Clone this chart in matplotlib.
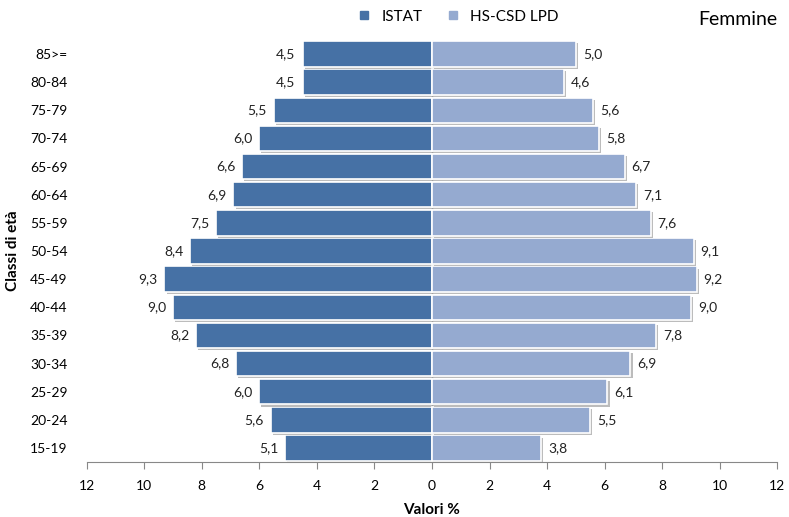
import matplotlib
matplotlib.use('Agg')
import matplotlib.pyplot as plt
import matplotlib.patheffects as pe
from matplotlib.lines import Line2D

plt.rcParams['font.family'] = ['Lato', 'DejaVu Sans']

# age classes, bottom to top
classes = ['15-19', '20-24', '25-29', '30-34', '35-39', '40-44', '45-49', '50-54',
           '55-59', '60-64', '65-69', '70-74', '75-79', '80-84', '85>=']
istat = [5.1, 5.6, 6.0, 6.8, 8.2, 9.0, 9.3, 8.4, 7.5, 6.9, 6.6, 6.0, 5.5, 4.5, 4.5]
hs_csd = [3.8, 5.5, 6.1, 6.9, 7.8, 9.0, 9.2, 9.1, 7.6, 7.1, 6.7, 5.8, 5.6, 4.6, 5.0]
xticks = [-12, -10, -8, -6, -4, -2, 0, 2, 4, 6, 8, 10, 12]

c_istat = '#4671A5'
c_hs = '#95AAD0'

fig = plt.figure(figsize=(7.89, 5.17), dpi=100)
ax = fig.add_axes([0.110, 0.106, 0.875, 0.817])

shadow = [pe.SimplePatchShadow(offset=(1.5, -1.5), shadow_rgbFace='#909090', alpha=0.6),
          pe.Normal()]
y = range(len(classes))
b1 = ax.barh(y, [-v for v in istat], height=0.9, color=c_istat,
             edgecolor='white', linewidth=1.2, path_effects=shadow)
b2 = ax.barh(y, hs_csd, height=0.9, color=c_hs,
             edgecolor='white', linewidth=1.2, path_effects=shadow)

fmt = lambda v: f'{abs(v):.1f}'.replace('.', ',')
ax.bar_label(b1, labels=[fmt(v) for v in istat], padding=5, fontsize=10, color='#222222')
ax.bar_label(b2, labels=[fmt(v) for v in hs_csd], padding=5, fontsize=10, color='#222222')

ax.axvline(0, color='#bbbbbb', linewidth=1, zorder=0.5)

ax.set_xlim(-12, 12)
ax.set_ylim(-0.5, len(classes) - 0.5)
ax.set_yticks(list(y))
ax.set_yticklabels(classes, fontsize=10)
ax.tick_params(axis='y', length=0, pad=14)
ax.set_xticks(xticks)
ax.set_xticklabels([str(abs(t)) for t in xticks], fontsize=10)
ax.tick_params(axis='x', direction='out', length=5, color='#888888', pad=8)
for s in ['top', 'right', 'left']:
    ax.spines[s].set_visible(False)
ax.spines['bottom'].set_color('#888888')

ax.set_xlabel('Valori %', fontsize=11, fontweight='bold')
ax.xaxis.set_label_coords(0.5, -0.097)
ax.set_ylabel('Classi di età', fontsize=11, fontweight='bold')
ax.yaxis.set_label_coords(-0.097, 0.5)

handles = [Line2D([], [], marker='s', linestyle='', color=c_istat, markersize=6),
           Line2D([], [], marker='s', linestyle='', color=c_hs, markersize=6)]
fig.legend(handles, ['ISTAT', 'HS-CSD LPD'], loc='center', bbox_to_anchor=(0.575, 0.968),
           ncol=2, frameon=False, fontsize=11, handletextpad=0.1, columnspacing=1.0)
fig.text(0.985, 0.962, 'Femmine', ha='right', va='center', fontsize=14)

plt.savefig('out.png', dpi=100)
